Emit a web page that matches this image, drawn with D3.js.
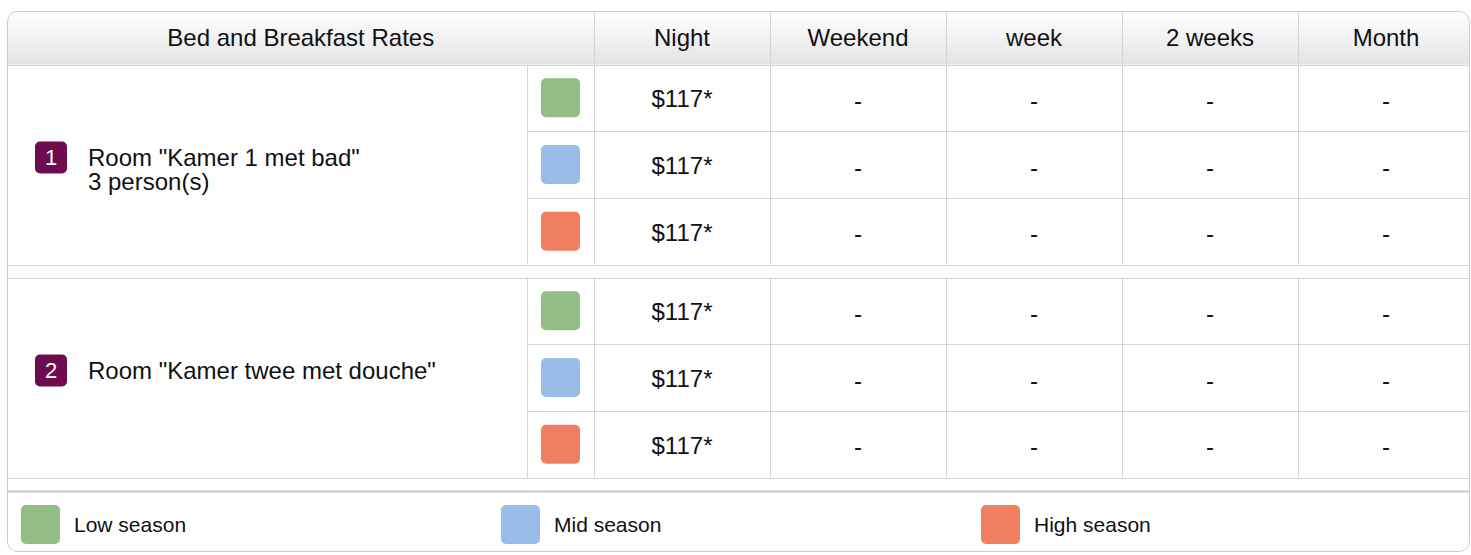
<!DOCTYPE html>
<html>
<head>
<meta charset="utf-8">
<script src="https://cdn.jsdelivr.net/npm/d3@7"></script>
<style>
  body { margin: 0; background: #fff; font-family: "Liberation Sans", Arial, sans-serif; }
  svg { display: block; }
</style>
</head>
<body>
<div id="main"></div>
<script>
const width = 1471;
const height = 555;

const title = 'Bed and Breakfast Rates';
const periods = ['Night', 'Weekend', 'week', '2 weeks', 'Month'];
const seasons = ['Low season', 'Mid season', 'High season'];
const seasonColors = ['#93bd87', '#99bde9', '#ef7f5f'];
const rooms = [
  { id: 1, name: 'Room "Kamer 1 met bad"', sub: '3 person(s)' },
  { id: 2, name: 'Room "Kamer twee met douche"', sub: '' }
];
// prices[room][season][period]
const prices = [
  [['$117*', '-', '-', '-', '-'], ['$117*', '-', '-', '-', '-'], ['$117*', '-', '-', '-', '-']],
  [['$117*', '-', '-', '-', '-'], ['$117*', '-', '-', '-', '-'], ['$117*', '-', '-', '-', '-']]
];

const boxL = 7.5, boxT = 11.5, boxR = 1469.5, boxB = 551.5;
const headerH = 53;
const groupH = 200, gapH = 13;
const lineColor = '#d4d4d4';
const fontSize = 24;

const x = d3.scaleBand().domain(periods).range([594, 1474]);
const swatchX = 527;
const rowH = groupH / seasons.length;
const groupY = d3.scaleLinear().domain([0, 1]).range([boxT + headerH, boxT + headerH + groupH + gapH]);
const rowY = (gi, si) => groupY(gi) + si * rowH;
const legendY = groupY(rooms.length);
const legendX = d3.scaleLinear().domain([0, 1]).range([21, 501]);

const svg = d3.select('#main').append('svg')
  .attr('width', width)
  .attr('height', height);

const defs = svg.append('defs');
const grad = defs.append('linearGradient')
  .attr('id', 'head-grad')
  .attr('x1', 0).attr('y1', 0).attr('x2', 0).attr('y2', 1);
grad.append('stop').attr('offset', '0%').attr('stop-color', '#ffffff');
grad.append('stop').attr('offset', '100%').attr('stop-color', '#e4e4e4');

defs.append('clipPath').attr('id', 'box-clip')
  .append('rect')
    .attr('x', boxL).attr('y', boxT)
    .attr('width', boxR - boxL).attr('height', boxB - boxT)
    .attr('rx', 10);

const g = svg.append('g').attr('clip-path', 'url(#box-clip)');

// header
g.append('rect')
  .attr('x', boxL).attr('y', boxT)
  .attr('width', boxR - boxL).attr('height', headerH)
  .attr('fill', 'url(#head-grad)');

g.append('text')
  .attr('x', (boxL + 594) / 2)
  .attr('y', boxT + headerH / 2)
  .attr('dy', '0.35em')
  .attr('text-anchor', 'middle')
  .attr('font-size', 24)
  .attr('fill', '#111')
  .text(title);

g.selectAll('.head-label')
  .data(periods)
  .join('text')
    .attr('class', 'head-label')
    .attr('x', d => x(d) + x.bandwidth() / 2)
    .attr('y', boxT + headerH / 2)
    .attr('dy', '0.35em')
    .attr('text-anchor', 'middle')
    .attr('font-size', 24)
    .attr('fill', '#111')
    .text(d => d);

// header vertical separators
g.selectAll('.head-sep')
  .data(periods)
  .join('line')
    .attr('class', 'head-sep')
    .attr('x1', d => Math.round(x(d)) + 0.5)
    .attr('x2', d => Math.round(x(d)) + 0.5)
    .attr('y1', boxT).attr('y2', boxT + headerH)
    .attr('stroke', lineColor);

// room groups
rooms.forEach((room, gi) => {
  const y0 = groupY(gi);
  const grp = g.append('g').attr('class', 'room-group');

  // badge + name
  grp.append('rect')
    .attr('x', 35).attr('y', y0 + 77)
    .attr('width', 32).attr('height', 32)
    .attr('rx', 5)
    .attr('fill', '#6d0c4f');
  grp.append('text')
    .attr('x', 51).attr('y', y0 + 93)
    .attr('dy', '0.36em')
    .attr('text-anchor', 'middle')
    .attr('font-size', 22)
    .attr('fill', '#fff')
    .text(room.id);
  const label = grp.append('text')
    .attr('x', 88).attr('y', y0 + 93)
    .attr('font-size', fontSize)
    .attr('fill', '#111');
  label.append('tspan').attr('x', 88).attr('dy', '0.36em').text(room.name);
  if (room.sub) {
    label.append('tspan').attr('x', 88).attr('dy', '1em').text(room.sub);
  }

  seasons.forEach((s, si) => {
    const ry = rowY(gi, si);
    grp.append('rect')
      .attr('x', 541).attr('y', ry + rowH / 2 - 19.5)
      .attr('width', 39).attr('height', 39)
      .attr('rx', 5)
      .attr('fill', seasonColors[si]);

    grp.selectAll(null)
      .data(prices[gi][si])
      .join('text')
        .attr('x', (d, i) => x(periods[i]) + x.bandwidth() / 2)
        .attr('y', ry + rowH / 2 + 1)
        .attr('dy', d => d === '-' ? '0.42em' : '0.35em')
        .attr('text-anchor', 'middle')
        .attr('font-size', fontSize)
        .attr('fill', '#111')
        .text(d => d);

    if (si > 0) {
      grp.append('line')
        .attr('x1', swatchX).attr('x2', boxR)
        .attr('y1', Math.round(ry) + 0.5).attr('y2', Math.round(ry) + 0.5)
        .attr('stroke', lineColor);
    }
  });

  // vertical lines inside group
  const vx = [swatchX].concat(periods.map(p => x(p)));
  grp.selectAll('.vline')
    .data(vx)
    .join('line')
      .attr('class', 'vline')
      .attr('x1', d => Math.round(d) + 0.5).attr('x2', d => Math.round(d) + 0.5)
      .attr('y1', y0).attr('y2', y0 + groupH)
      .attr('stroke', lineColor);

  // lines around the gap
  [y0, y0 + groupH, y0 + groupH + gapH].forEach((ly, k) => {
    const last = gi === rooms.length - 1 && k === 2;
    grp.append('line')
      .attr('x1', boxL).attr('x2', boxR)
      .attr('y1', Math.round(ly) + 0.5).attr('y2', Math.round(ly) + 0.5)
      .attr('stroke', last ? '#c8c8c8' : lineColor)
      .attr('stroke-width', last ? 2 : 1);
  });
});

// legend
const legend = g.selectAll('.legend-item')
  .data(seasons)
  .join('g')
    .attr('class', 'legend-item')
    .attr('transform', (d, i) => `translate(${legendX(i)},${legendY + 34})`);

legend.append('rect')
  .attr('x', 0).attr('y', -19.5)
  .attr('width', 39).attr('height', 39)
  .attr('rx', 5)
  .attr('fill', (d, i) => seasonColors[i]);

legend.append('text')
  .attr('x', 53).attr('y', 0)
  .attr('dy', '0.35em')
  .attr('font-size', 21)
  .attr('fill', '#111')
  .text(d => d);

// outer border
svg.append('rect')
  .attr('x', boxL).attr('y', boxT)
  .attr('width', boxR - boxL).attr('height', boxB - boxT)
  .attr('rx', 10)
  .attr('fill', 'none')
  .attr('stroke', '#cccccc');
</script>
</body>
</html>
